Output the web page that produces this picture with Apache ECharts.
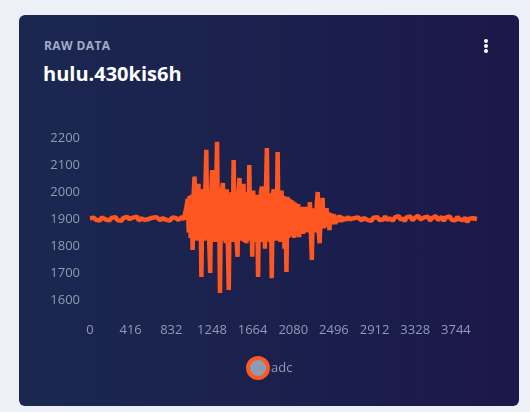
<!DOCTYPE html>
<html>
<head>
<meta charset="utf-8">
<script src="https://cdn.jsdelivr.net/npm/echarts@6/dist/echarts.min.js"></script>
<style>
  html, body { margin: 0; padding: 0; background: #edf1f7; font-family: 'Open Sans', sans-serif; }
  .card {
    position: absolute; left: 19px; top: 15px; width: 500px; height: 391px;
    border-radius: 6px;
    background: linear-gradient(90deg, #1a2850 0%, #1b1d4c 70%, #1d174a 100%);
  }
  .card .sub { position: absolute; left: 25px; top: 22px; font-size: 12px; font-weight: 700; color: #a3acc4; letter-spacing: 0.4px; }
  .card .head { position: absolute; left: 24px; top: 45px; font-size: 20px; font-weight: 700; color: #ffffff; }
  .card .dots { position: absolute; left: 465px; top: 24px; width: 4px; }
  .card .dots i { display: block; width: 4px; height: 4px; border-radius: 2px; background: #ffffff; margin-bottom: 1px; }
  #chart { position: absolute; left: 0; top: 0; width: 530px; height: 412px; }
</style>
</head>
<body>
<div class="card">
  <div class="sub">RAW DATA</div>
  <div class="head">hulu.430kis6h</div>
  <div class="dots"><i></i><i></i><i></i></div>
</div>
<div id="chart"></div>
<script>
// quiet readings before the burst, one every 20 samples from sample 0
const quietBefore = [
  1903, 1899, 1905, 1897, 1900, 1894, 1906, 1910, 1898, 1902, 1895, 1904, 1899, 1907, 1896, 1901, 1893, 1903, 1898, 1908,
  1900, 1896, 1905, 1899, 1909, 1894, 1902, 1906, 1897, 1904, 1900, 1893, 1905, 1898, 1907, 1901, 1895, 1903, 1908, 1897,
  1902, 1894, 1906, 1899, 1904, 1896, 1901, 1907, 1898
];
// burst readings, one every 10 samples from sample 980
const burst = [
  1900, 1950, 1975, 1850, 1985, 1830, 1990, 1785, 1985, 2057, 1825, 1995, 1820, 2030, 1825, 1990, 1685, 1985, 2010, 1820,
  1995, 2156, 1825, 1990, 1815, 1700, 1990, 2081, 1820, 2000, 1815, 1990, 2186, 1820, 1985, 1626, 1990, 2005, 2033, 1820,
  1995, 1810, 2010, 1825, 1637, 1990, 1820, 2000, 1815, 2118, 1825, 1990, 1820, 1760, 1995, 2052, 1820, 2000, 1820, 2030,
  1815, 1990, 1810, 2000, 1825, 2100, 1820, 1995, 1760, 2005, 1825, 1990, 1815, 1985, 1685, 1990, 1825, 2000, 2020, 1815,
  1990, 1790, 2005, 2163, 1825, 1995, 1815, 1985, 1681, 1990, 2010, 1825, 1990, 1820, 2148, 1825, 1995, 1815, 2005, 1825,
  1985, 1790, 1980, 1704, 1982, 1830, 1975, 1835, 1970, 1840, 1965, 1830, 1960, 1840, 1845, 1955, 1833, 1945, 1850, 1945,
  1845, 1940, 1850, 1945, 1850, 1940, 1855, 1963, 1855, 1748, 1940, 1855, 1935, 1850, 1950, 2000, 1855, 1810, 1930, 1865,
  1978, 1865, 1935, 1870, 1940, 1875, 1925, 1859, 1920, 1925, 1880, 1918, 1922, 1882, 1875, 1912, 1888, 1915, 1888, 1910,
  1892
];
// quiet readings after the burst, one every 20 samples from sample 2600
const quietAfter = [
  1905, 1896, 1908, 1899, 1894, 1903, 1898, 1906, 1900, 1895, 1904, 1909, 1897, 1901, 1893, 1905, 1899, 1907, 1896, 1902,
  1898, 1910, 1895, 1903, 1900, 1894, 1906, 1899, 1911, 1896, 1904, 1892, 1907, 1900, 1909, 1895, 1903, 1897, 1912, 1898,
  1893, 1906, 1901, 1908, 1894, 1904, 1899, 1911, 1896, 1902, 1907, 1893, 1905, 1900, 1910, 1897, 1903, 1895, 1908, 1899,
  1902, 1896, 1905, 1888, 1901, 1894, 1903, 1897, 1900
];
const xTicks = [0, 416, 832, 1248, 1664, 2080, 2496, 2912, 3328, 3744];
const yTicks = [1600, 1700, 1800, 1900, 2000, 2100, 2200];

function segment(values, start, step) {
  return values.map((v, i) => [start + i * step, v]);
}
const adc = [].concat(
  segment(quietBefore, 0, 20),
  segment(burst, 980, 10),
  segment(quietAfter, 2600, 20)
);

const labelColor = '#8f9bb3';
const chart = echarts.init(document.getElementById('chart'));
chart.setOption({
  backgroundColor: 'transparent',
  textStyle: { fontFamily: 'Open Sans' },
  grid: { left: 90, right: 53, top: 138, bottom: 112 },
  legend: {
    data: [{ name: 'adc', icon: 'circle' }],
    left: 241,
    top: 351,
    itemWidth: 20,
    itemHeight: 20,
    itemStyle: { color: '#8f9bb3', borderColor: '#ff5722', borderWidth: 4 },
    textStyle: { color: labelColor, fontSize: 13, padding: [0, 0, 0, -2] }
  },
  xAxis: {
    type: 'value',
    min: 0,
    max: adc[adc.length - 1][0],
    interval: 416,
    axisLine: { show: false },
    axisTick: { show: false },
    splitLine: { show: false },
    axisLabel: {
      color: labelColor,
      fontSize: 13,
      margin: 24,
      formatter: v => (xTicks.indexOf(v) >= 0 ? String(v) : '')
    }
  },
  yAxis: {
    type: 'value',
    min: yTicks[0],
    max: yTicks[yTicks.length - 1],
    interval: 100,
    axisLine: { show: false },
    axisTick: { show: false },
    splitLine: { show: false },
    axisLabel: { color: labelColor, fontSize: 13, margin: 10, formatter: v => String(v) }
  },
  series: [
    {
      name: 'adc',
      type: 'line',
      showSymbol: false,
      animation: false,
      data: adc,
      lineStyle: { color: '#ff5722', width: 4.5 },
      itemStyle: { color: '#ff5722' }
    }
  ]
});
</script>
</body>
</html>
